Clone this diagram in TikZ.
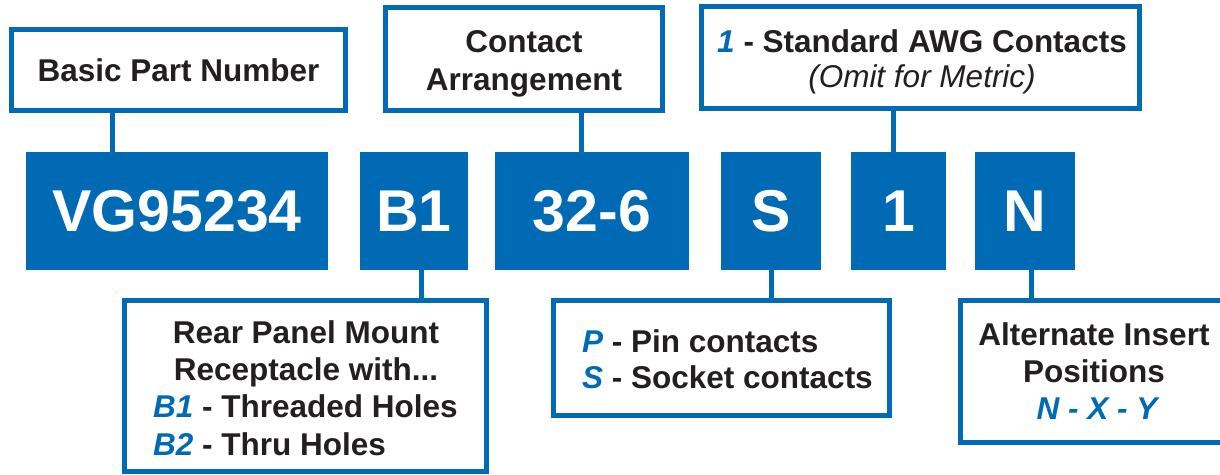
\documentclass[tikz,border=0pt]{standalone}
\usepackage{fontspec}
\setmainfont{Liberation Sans}
\definecolor{cblue}{RGB}{0,106,180}
\definecolor{ctext}{RGB}{35,31,32}
\tikzset{
  obox/.style={draw=cblue, line width=5pt, fill=white, inner sep=0pt, outer sep=0pt},
  bbox/.style={fill=cblue, inner sep=0pt, outer sep=0pt, minimum height=118pt, text=white,
    font=\fontsize{59}{60}\selectfont\bfseries},
  conn/.style={draw=cblue, line width=5pt},
  lbl/.style={inner sep=0pt, text=ctext, font=\fontsize{31.5}{37}\selectfont\bfseries},
  lblr/.style={inner sep=0pt, text=ctext, font=\fontsize{31.5}{37}\selectfont\itshape},
}
\newcommand{\bl}[1]{{\color{cblue}\itshape #1}}
\begin{document}
\begin{tikzpicture}[x=1pt,y=-1pt]
\useasboundingbox (0,0) rectangle (1220,474);
\clip (0,0) rectangle (1220,474);
\fill[white] (0,0) rectangle (1220,474);

% outlined boxes
\node[obox, minimum width=334pt, minimum height=81pt] (basic) at (178.5,70) {};
\node[obox, minimum width=277pt, minimum height=103pt] (contact) at (524,59) {};
\node[obox, minimum width=438pt, minimum height=102pt] (awg) at (920.5,57.5) {};
\node[obox, minimum width=362pt, minimum height=171pt] (rear) at (305.5,386) {};
\node[obox, minimum width=336pt, minimum height=115pt] (ps) at (721.5,358) {};
\node[obox, minimum width=277pt, minimum height=142pt] (alt) at (1099,371.5) {};

% blue code boxes
\node[bbox, minimum width=302pt] (vg) at (177,211) {VG95234};
\node[bbox, minimum width=108pt] (b1) at (414,211) {B1};
\node[bbox, minimum width=194pt] (cab) at (592,211) {32-6};
\node[bbox, minimum width=100pt] (sbox) at (771,211) {S};
\node[bbox, minimum width=95pt] (one) at (898.5,211) {1};
\node[bbox, minimum width=100pt] (nbox) at (1025,211) {N};

% connectors
\draw[conn] ([xshift=-66.5pt]basic.south) -- ([xshift=-66.5pt]basic.south |- vg.north);
\draw[conn] ([xshift=57pt]contact.south) -- ([xshift=57pt]contact.south |- cab.north);
\draw[conn] ([xshift=-27.5pt]awg.south) -- ([xshift=-27.5pt]awg.south |- one.north);
\draw[conn] ([xshift=7pt]b1.south) -- ([xshift=7pt]b1.south |- rear.north);
\draw[conn] (sbox.south) -- (sbox.south |- ps.north);
\draw[conn] ([xshift=6pt]nbox.south) -- ([xshift=6pt]nbox.south |- alt.north);

% labels
\node[lbl, anchor=base] (tbasic) at (178.5,81) {Basic Part Number};
\node[lbl, anchor=base] (tcon1) at (524,52) {Contact};
\node[lbl, anchor=base] (tcon2) at (524,90) {Arrangement};
\node[lbl, anchor=base] (tawg1) at (922,52) {\bl{1} - Standard AWG Contacts};
\node[lblr, anchor=base] (tawg2) at (922,87) {(Omit for Metric)};

\node[lbl, anchor=base] (trear1) at (306,343) {Rear Panel Mount};
\node[lbl, anchor=base] (trear2) at (306,380) {Receptacle with...};
\node[lbl, anchor=base west] (trear3) at (153,417) {\bl{B1} - Threaded Holes};
\node[lbl, anchor=base west] (trear4) at (153,455) {\bl{B2} - Thru Holes};

\node[lbl, anchor=base west] (tps1) at (582,352) {\bl{P} - Pin contacts};
\node[lbl, anchor=base west] (tps2) at (582,388) {\bl{S} - Socket contacts};

\node[lbl, anchor=base] (talt1) at (1094,345) {Alternate Insert};
\node[lbl, anchor=base] (talt2) at (1094,382) {Positions};
\node[lbl, anchor=base, text=cblue, font=\fontsize{31.5}{37}\selectfont\bfseries\itshape] (talt3) at (1097,419) {N - X - Y};
\end{tikzpicture}
\end{document}
